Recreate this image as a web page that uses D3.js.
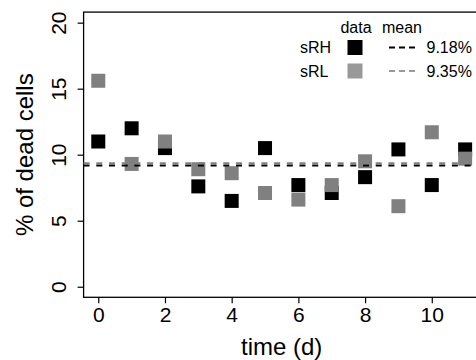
<!DOCTYPE html>
<html>
<head>
<meta charset="utf-8">
<script src="https://cdn.jsdelivr.net/npm/d3@7"></script>
<style>
  html, body { margin: 0; padding: 0; background: #fff; }
  svg { display: block; font-family: "Liberation Sans", Arial, Helvetica, sans-serif; }
</style>
</head>
<body>
<svg id="chart" width="476" height="360"></svg>
<script>
const days = [0, 1, 2, 3, 4, 5, 6, 7, 8, 9, 10, 11];
const sRH = [11.0, 12.0, 10.5, 7.6, 6.5, 10.5, 7.7, 7.1, 8.3, 10.4, 7.7, 10.4];
const sRL = [15.6, 9.3, 11.0, 8.9, 8.6, 7.1, 6.6, 7.7, 9.5, 6.1, 11.7, 9.7];
const seriesNames = ['sRH', 'sRL'];
const meanValues = [9.18, 9.35];
const xTicks = [0, 2, 4, 6, 8, 10];
const yTicks = [0, 5, 10, 15, 20];

const pointColors = ['#000000', '#808080'];
const legendColors = ['#000000', '#999999'];
const lineColors = ['#000000', '#808080'];

const svg = d3.select('#chart');

// R-style 4% padding on both axes
const x = d3.scaleLinear().domain([-0.44, 11.44]).range([83.6, 479.8]);
const y = d3.scaleLinear().domain([-0.8, 20.8]).range([297.3, 12.1]);

const [x0, x1] = x.range();
const [yb, yt] = y.range();

// box
svg.append('rect')
  .attr('x', x0).attr('y', yt)
  .attr('width', x1 - x0).attr('height', yb - yt)
  .attr('fill', 'none')
  .attr('stroke', '#000')
  .attr('stroke-width', 1.3);

// Y axis
const yAxis = svg.append('g')
  .attr('transform', `translate(${x0},0)`)
  .call(d3.axisLeft(y).tickValues(yTicks).tickSize(6).tickSizeOuter(0));
yAxis.select('.domain').remove();
yAxis.selectAll('line').attr('stroke-width', 1.2);
yAxis.selectAll('text')
  .attr('x', 0).attr('dy', 0)
  .attr('text-anchor', 'middle')
  .attr('transform', 'translate(-18,0) rotate(-90)')
  .attr('font-size', 21)
  .attr('font-family', null)
  .attr('fill', '#000');

// X axis
const xAxis = svg.append('g')
  .attr('transform', `translate(0,${yb})`)
  .call(d3.axisBottom(x).tickValues(xTicks).tickSize(6).tickSizeOuter(0));
xAxis.select('.domain').remove();
xAxis.selectAll('line').attr('stroke-width', 1.2);
xAxis.selectAll('text')
  .attr('y', 24.5).attr('dy', 0)
  .attr('font-size', 21)
  .attr('font-family', null)
  .attr('fill', '#000');

// axis titles
svg.append('text')
  .attr('x', (x0 + x1) / 2).attr('y', 355)
  .attr('text-anchor', 'middle')
  .attr('font-size', 24)
  .text('time (d)');

svg.append('text')
  .attr('transform', `translate(33,${(yb + yt) / 2}) rotate(-90)`)
  .attr('text-anchor', 'middle')
  .attr('font-size', 24)
  .text('% of dead cells');

// points: sRH first, sRL on top
const sq = 14;
[sRH, sRL].forEach((vals, i) => {
  svg.append('g')
    .selectAll('rect')
    .data(vals)
    .enter()
    .append('rect')
    .attr('x', (d, j) => x(days[j]) - sq / 2)
    .attr('y', d => y(d) - sq / 2)
    .attr('width', sq)
    .attr('height', sq)
    .attr('fill', pointColors[i]);
});

// mean lines
meanValues.forEach((m, i) => {
  svg.append('line')
    .attr('x1', x0).attr('x2', x1)
    .attr('y1', y(m)).attr('y2', y(m))
    .attr('stroke', lineColors[i])
    .attr('stroke-width', 2)
    .attr('stroke-dasharray', '6,6.7');
});

// legend
const legend = svg.append('g').attr('font-size', 16);
legend.append('text').attr('x', 356).attr('y', 33).attr('text-anchor', 'middle').text('data');
legend.append('text').attr('x', 402).attr('y', 33).attr('text-anchor', 'middle').text('mean');

const rowY = [47.5, 71];
seriesNames.forEach((name, i) => {
  const cy = rowY[i];
  legend.append('text').attr('x', 300).attr('y', cy + 5.8).text(name);
  legend.append('rect')
    .attr('x', 347.5).attr('y', cy - 7.5)
    .attr('width', 15).attr('height', 15)
    .attr('fill', legendColors[i]);
  legend.append('line')
    .attr('x1', 389).attr('x2', 415)
    .attr('y1', cy).attr('y2', cy)
    .attr('stroke', legendColors[i])
    .attr('stroke-width', 2)
    .attr('stroke-dasharray', '6,4');
  legend.append('text').attr('x', 426.5).attr('y', cy + 5.8)
    .text(meanValues[i].toFixed(2) + '%');
});
</script>
</body>
</html>
